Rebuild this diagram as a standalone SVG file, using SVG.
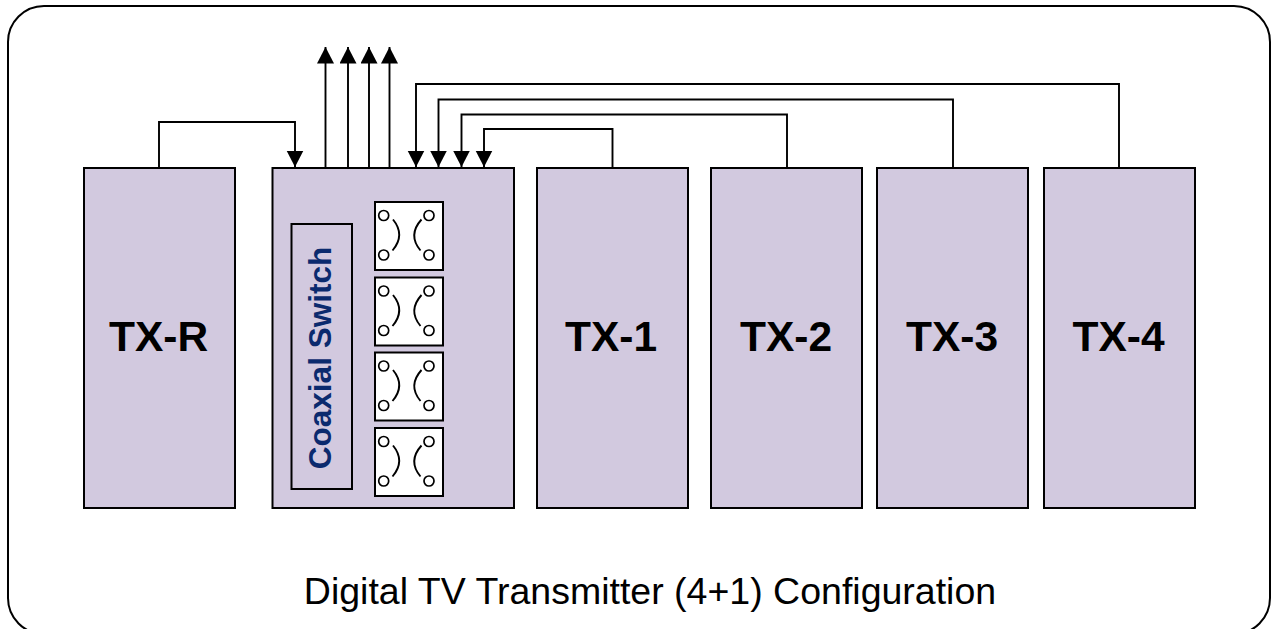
<svg xmlns="http://www.w3.org/2000/svg" width="1272" height="629" viewBox="0 0 1272 629">
<style>
.box{fill:#d2c9df;stroke:#000;stroke-width:2}
.tx{font-family:"Liberation Sans",Arial,sans-serif;font-weight:bold;font-size:42.500px;text-anchor:middle;fill:#000}
.sw{fill:#fff;stroke:#000;stroke-width:2}
.c{fill:#fff;stroke:#000;stroke-width:1.700}
.a{fill:none;stroke:#000;stroke-width:1.900}
.w{fill:none;stroke:#000;stroke-width:1.900}
</style>
<defs>
<g id="switch">
<rect class="sw" x="0" y="0" width="68" height="68"/>
<circle class="c" cx="8.700" cy="13.500" r="5"/>
<circle class="c" cx="8.700" cy="53" r="5"/>
<circle class="c" cx="54" cy="13.500" r="5"/>
<circle class="c" cx="54" cy="53" r="5"/>
<path class="a" d="M18 17.500Q30.700 33 17.500 48.500"/>
<path class="a" d="M46.500 17.500Q32.500 33 45.500 48.500"/>
</g>
<marker id="ah" markerUnits="userSpaceOnUse" markerWidth="18" markerHeight="18" refX="16.500" refY="8.500" orient="auto">
<path d="M0 0L16.500 8.500L0 17Z" fill="#000"/>
</marker>
</defs>
<rect id="frame" x="8" y="6" width="1262" height="628" rx="36" ry="36" fill="#fff" stroke="#000" stroke-width="2"/>
<g id="tx-r"><rect class="box" x="84" y="168" width="151" height="340"/><text class="tx" x="158.500" y="351">TX-R</text></g>
<g id="coaxial-switch">
<rect class="box" x="272.500" y="168" width="241.500" height="340"/>
<rect x="291.500" y="224" width="60.500" height="265" fill="none" stroke="#000" stroke-width="2"/>
<text transform="translate(331 358) rotate(-90)" font-family="'Liberation Sans',Arial,sans-serif" font-weight="bold" font-size="31.500" text-anchor="middle" fill="#0b2a6e">Coaxial Switch</text>
<use href="#switch" x="375" y="202"/>
<use href="#switch" x="375" y="277.500"/>
<use href="#switch" x="375" y="352.500"/>
<use href="#switch" x="375" y="428"/>
</g>
<g id="tx-1"><rect class="box" x="537" y="168" width="151" height="340"/><text class="tx" x="611" y="351">TX-1</text></g>
<g id="tx-2"><rect class="box" x="711" y="168" width="151" height="340"/><text class="tx" x="786" y="351">TX-2</text></g>
<g id="tx-3"><rect class="box" x="877" y="168" width="151" height="340"/><text class="tx" x="952" y="351">TX-3</text></g>
<g id="tx-4"><rect class="box" x="1044" y="168" width="151" height="340"/><text class="tx" x="1118.500" y="351">TX-4</text></g>
<g id="connectors">
<path class="w" marker-end="url(#ah)" d="M159 168V122H295V167"/>
<path class="w" marker-end="url(#ah)" d="M325.500 168V47"/>
<path class="w" marker-end="url(#ah)" d="M348 168V47"/>
<path class="w" marker-end="url(#ah)" d="M369 168V47"/>
<path class="w" marker-end="url(#ah)" d="M389.500 168V47"/>
<path class="w" marker-end="url(#ah)" d="M1119 168V84H416V167"/>
<path class="w" marker-end="url(#ah)" d="M953 168V99.500H438.500V167"/>
<path class="w" marker-end="url(#ah)" d="M787 168V114.500H461.500V167"/>
<path class="w" marker-end="url(#ah)" d="M612.500 168V129H484V167"/>
</g>
<text id="caption" x="650" y="604" font-family="'Liberation Sans',Arial,sans-serif" font-size="37.500" text-anchor="middle" fill="#000">Digital TV Transmitter (4+1) Configuration</text>
</svg>
